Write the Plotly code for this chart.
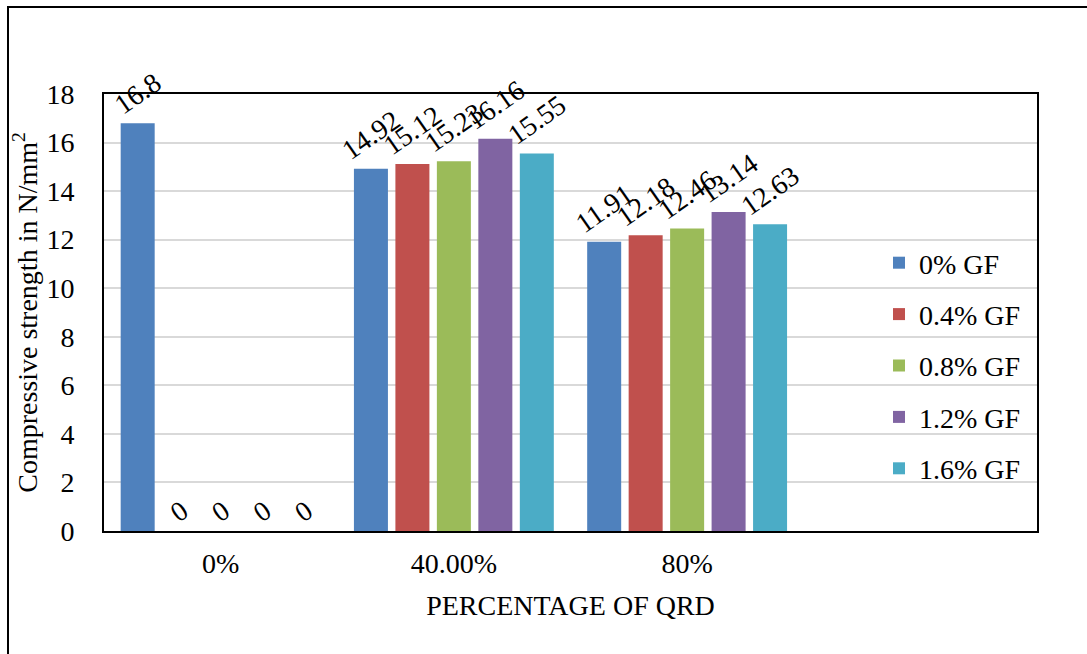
import plotly.graph_objects as go

categories = ["0%", "40.00%", "80%"]
series_names = ["0% GF", "0.4% GF", "0.8% GF", "1.2% GF", "1.6% GF"]
values_0 = [16.8, 14.92, 11.91]
values_04 = [0, 15.12, 12.18]
values_08 = [0, 15.23, 12.46]
values_12 = [0, 16.16, 13.14]
values_16 = [0, 15.55, 12.63]
y_ticks = [0, 2, 4, 6, 8, 10, 12, 14, 16, 18]

series_values = [values_0, values_04, values_08, values_12, values_16]
colors = ["#4F81BD", "#C0504D", "#9BBB59", "#8064A2", "#4BACC6"]
FONT = "Liberation Serif, Times New Roman, serif"

fig = go.Figure()
for name, vals, col in zip(series_names, series_values, colors):
    fig.add_trace(go.Bar(
        x=categories, y=vals, name=name, legendgroup=name,
        marker=dict(color=col, line=dict(width=0)),
        text=[f"{v:g}" for v in vals], texttemplate="%{text}",
        textposition="outside", textangle=-35, constraintext="none",
        cliponaxis=False,
        textfont=dict(family=FONT, size=28, color="black"),
    ))

W, H = 1087, 654
L, R, T, B = 104, 50, 94, 123
pw, ph = W - L - R, H - T - B

def px_x(p):
    return (p - L) / pw

def px_y(p):
    return (H - B - p) / ph

fig.update_layout(
    width=W, height=H,
    margin=dict(l=L, r=R, t=T, b=B),
    paper_bgcolor="white", plot_bgcolor="white",
    barmode="group", bargap=0.111, bargroupgap=0.18,
    font=dict(family=FONT, size=28, color="black"),
    showlegend=True,
    legend=dict(
        x=px_x(879), y=px_y(238), xanchor="left", yanchor="top",
        font=dict(family=FONT, size=28, color="black"),
        bgcolor="rgba(0,0,0,0)", tracegroupgap=12,
    ),
    xaxis=dict(
        type="category",
        categoryorder="array", categoryarray=categories + [" "],
        range=[-0.5, 3.5],
        showline=True, linecolor="black", linewidth=2, mirror=True,
        showgrid=False, ticks="", ticklabelstandoff=6,
        tickfont=dict(family=FONT, size=28, color="black"),
        title=dict(text="PERCENTAGE OF QRD", font=dict(family=FONT, size=28, color="black"), standoff=18),
        fixedrange=True,
    ),
    yaxis=dict(
        range=[0, 18], tickvals=y_ticks,
        showline=True, linecolor="black", linewidth=2, mirror=True,
        showgrid=True, gridcolor="#D9D9D9", gridwidth=1.5,
        zeroline=False, ticks="", ticklabelstandoff=22,
        tickfont=dict(family=FONT, size=28, color="black"),
        title=dict(text="Compressive strength in N/mm<sup>2</sup>", font=dict(family=FONT, size=28, color="black"), standoff=1),
        fixedrange=True,
    ),
    shapes=[dict(
        type="rect", xref="paper", yref="paper",
        x0=px_x(8), y0=px_y(700), x1=px_x(1120), y1=px_y(7),
        line=dict(color="black", width=2), fillcolor="rgba(0,0,0,0)", layer="above",
    )],
)

fig.write_html(
    "out.html",
    config={"displayModeBar": False},
    post_script="document.body.style.margin='0';document.body.style.overflow='hidden';",
)
